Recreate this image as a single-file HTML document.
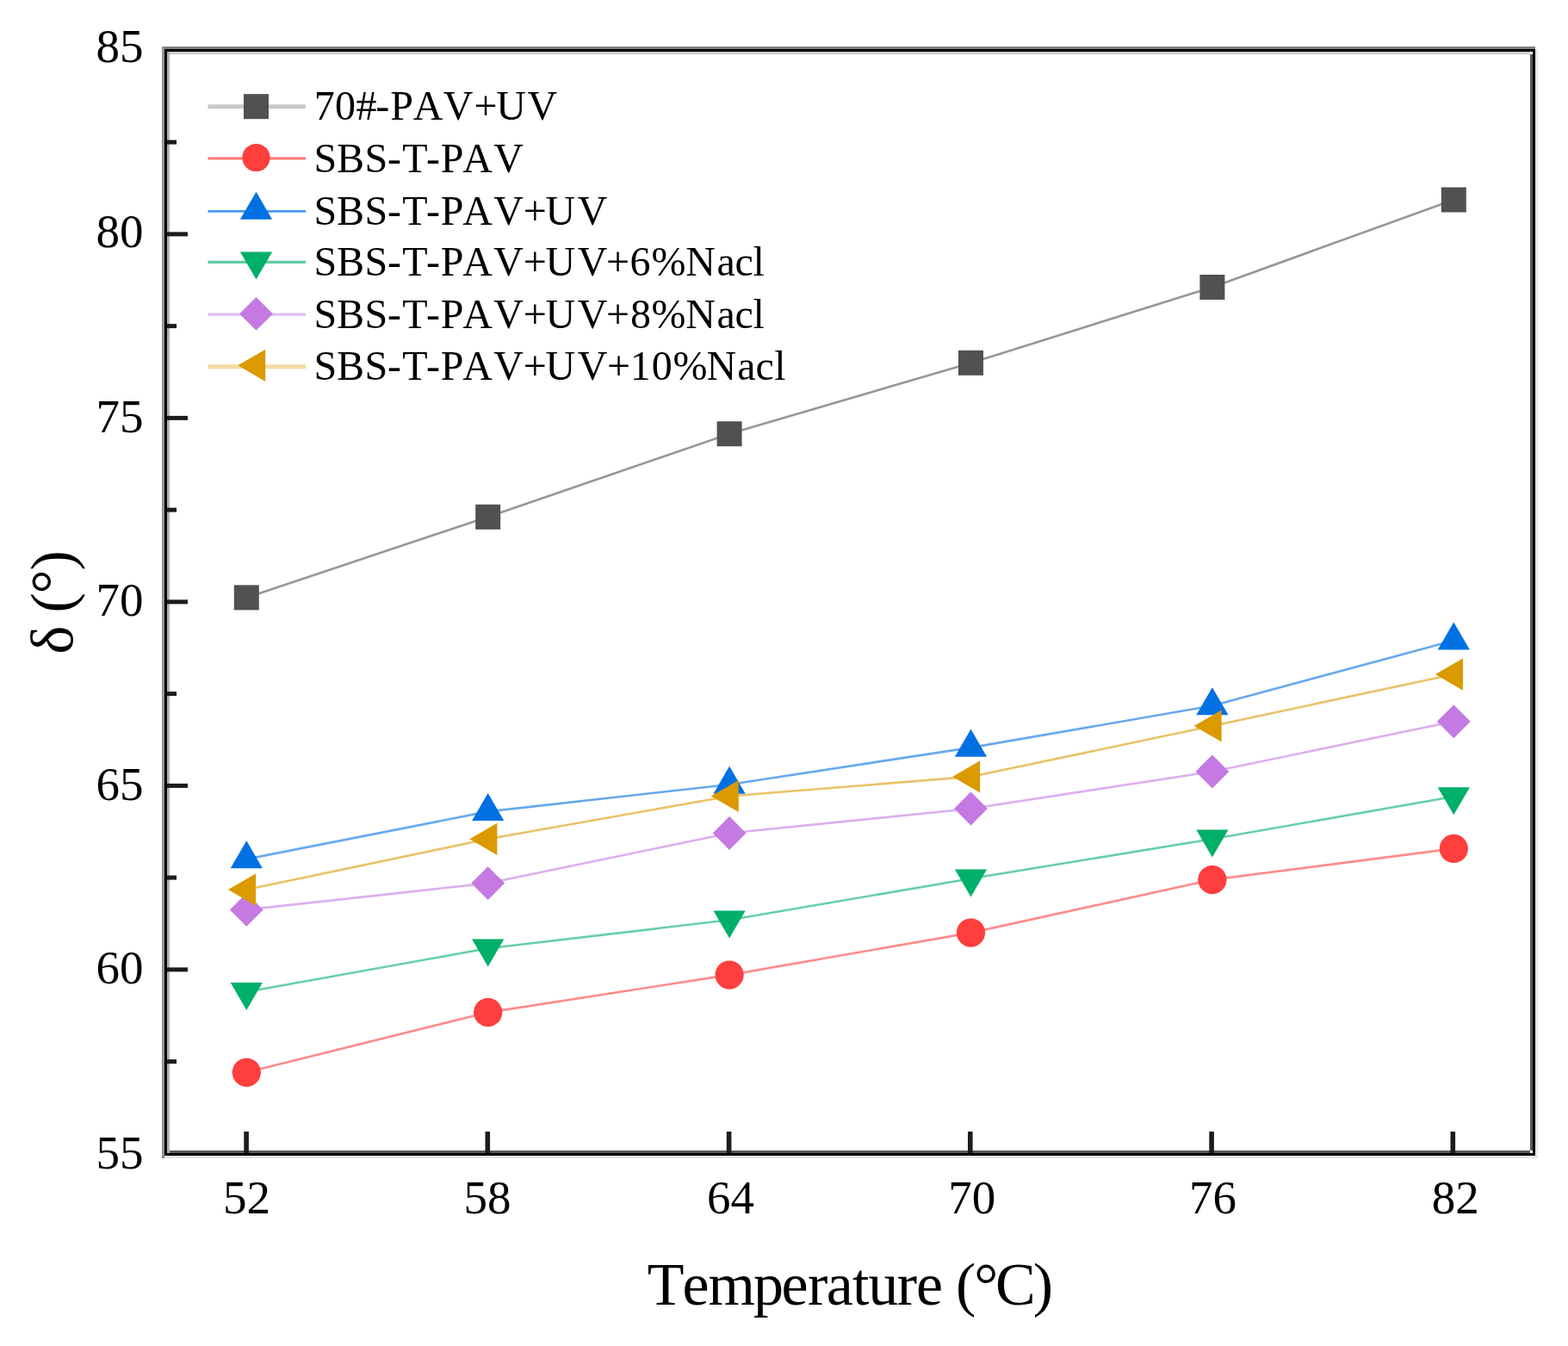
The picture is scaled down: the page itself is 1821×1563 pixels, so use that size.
<!DOCTYPE html>
<html><head><meta charset="utf-8"><title>Temperature vs phase angle</title>
<style>
html,body{margin:0;padding:0;background:#fff;}
body{width:1821px;height:1563px;overflow:hidden;}
svg{display:block;}
text{font-family:"Liberation Serif","Times New Roman",serif;fill:#000;}
</style></head><body>
<svg width="1821" height="1563" viewBox="0 0 1821 1563">
<rect width="1821" height="1563" fill="#fff"/>
<g shape-rendering="crispEdges">
<rect x="188" y="54" width="3" height="1291" fill="#000" fill-opacity="0.42"/>
<rect x="194" y="60" width="3" height="1279" fill="#000" fill-opacity="0.3"/>
<rect x="191" y="57" width="3" height="1285" fill="#000"/>
<rect x="191" y="54" width="1592" height="3" fill="#000" fill-opacity="0.5"/>
<rect x="197" y="60" width="1580" height="3" fill="#000" fill-opacity="0.2"/>
<rect x="191" y="57" width="1592" height="3" fill="#000"/>
<rect x="1777" y="63" width="3" height="1273" fill="#000" fill-opacity="0.65"/>
<rect x="1783" y="57" width="3" height="1285" fill="#000" fill-opacity="0.1"/>
<rect x="1780" y="57" width="3" height="1285" fill="#000"/>
<rect x="197" y="1336" width="1580" height="3" fill="#000" fill-opacity="0.65"/>
<rect x="188" y="1342" width="1598" height="3" fill="#000" fill-opacity="0.1"/>
<rect x="191" y="1339" width="1592" height="3" fill="#000"/>
</g>
<g fill="#1c1c1c">
<rect x="283.3" y="1314" width="5.6" height="25"/>
<rect x="563.5" y="1314" width="5.6" height="25"/>
<rect x="843.8" y="1314" width="5.6" height="25"/>
<rect x="1124.0" y="1314" width="5.6" height="25"/>
<rect x="1404.3" y="1314" width="5.6" height="25"/>
<rect x="1684.5" y="1314" width="5.6" height="25"/>
</g>
<g fill="#1c1c1c">
<rect x="194" y="162.6" width="11" height="5"/>
<rect x="194" y="269.4" width="24" height="5"/>
<rect x="194" y="376.1" width="11" height="5"/>
<rect x="194" y="482.9" width="24" height="5"/>
<rect x="194" y="589.6" width="11" height="5"/>
<rect x="194" y="696.4" width="24" height="5"/>
<rect x="194" y="803.1" width="11" height="5"/>
<rect x="194" y="909.9" width="24" height="5"/>
<rect x="194" y="1016.6" width="11" height="5"/>
<rect x="194" y="1123.4" width="24" height="5"/>
<rect x="194" y="1230.2" width="11" height="5"/>
</g>
<g font-size="55" text-anchor="end">
<text x="166.5" y="72.3">85</text>
<text x="166.5" y="287.2">80</text>
<text x="166.5" y="501.9">75</text>
<text x="166.5" y="714.5">70</text>
<text x="166.5" y="929.3">65</text>
<text x="166.5" y="1141.7">60</text>
<text x="166.5" y="1356.8">55</text>
</g>
<g font-size="55" text-anchor="middle">
<text x="286.4" y="1409.0">52</text>
<text x="566.0" y="1409.0">58</text>
<text x="848.5" y="1409.0">64</text>
<text x="1128.8" y="1409.0">70</text>
<text x="1408.5" y="1409.0">76</text>
<text x="1690.2" y="1409.0">82</text>
</g>
<text x="751.8 792.5 822.5 875.0 907.4 937.9 959.7 990.1 1008.3 1041.8 1063.9 1090.0 1110.0 1131.3 1156.0 1199.7" y="1514.5" font-size="70">Temperature (°C)</text>
<text transform="translate(83.5,760) rotate(-90)" x="0.5 30.0 48.4 70.5 97.6" y="0" font-size="70">δ (°)</text>
<polyline points="286.3,693.9 566.7,600.3 847.1,503.8 1127.5,421.4 1407.9,333.5 1688.3,232.0" fill="none" stroke="#515151" stroke-width="2.6" stroke-opacity="0.6"/>
<polyline points="286.3,1245.3 566.7,1175.6 847.1,1132.1 1127.5,1083.1 1407.9,1021.6 1688.3,985.4" fill="none" stroke="#FF3E3E" stroke-width="2.6" stroke-opacity="0.6"/>
<polyline points="286.3,997.6 566.7,942.4 847.1,911.0 1127.5,868.1 1407.9,819.6 1688.3,743.8" fill="none" stroke="#0070E3" stroke-width="2.6" stroke-opacity="0.6"/>
<polyline points="286.3,1151.7 566.7,1101.3 847.1,1068.3 1127.5,1020.2 1407.9,974.3 1688.3,925.0" fill="none" stroke="#00AF6A" stroke-width="2.6" stroke-opacity="0.6"/>
<polyline points="286.3,1056.4 566.7,1025.6 847.1,967.5 1127.5,939.0 1407.9,896.0 1688.3,837.8" fill="none" stroke="#C479E3" stroke-width="2.6" stroke-opacity="0.6"/>
<polyline points="286.3,1033.1 566.7,974.3 847.1,924.5 1127.5,901.9 1407.9,843.0 1688.3,783.1" fill="none" stroke="#DA9A00" stroke-width="2.6" stroke-opacity="0.6"/>
<g><rect x="271.8" y="679.4" width="29.0" height="29.0" fill="#515151"/><rect x="552.2" y="585.8" width="29.0" height="29.0" fill="#515151"/><rect x="832.6" y="489.3" width="29.0" height="29.0" fill="#515151"/><rect x="1113.0" y="406.9" width="29.0" height="29.0" fill="#515151"/><rect x="1393.4" y="319.0" width="29.0" height="29.0" fill="#515151"/><rect x="1673.8" y="217.5" width="29.0" height="29.0" fill="#515151"/></g>
<g><circle cx="286.3" cy="1245.3" r="16.6" fill="#FF3E3E"/><circle cx="566.7" cy="1175.6" r="16.6" fill="#FF3E3E"/><circle cx="847.1" cy="1132.1" r="16.6" fill="#FF3E3E"/><circle cx="1127.5" cy="1083.1" r="16.6" fill="#FF3E3E"/><circle cx="1407.9" cy="1021.6" r="16.6" fill="#FF3E3E"/><circle cx="1688.3" cy="985.4" r="16.6" fill="#FF3E3E"/></g>
<g><polygon points="286.3,976.3 304.9,1008.3 267.7,1008.3" fill="#0070E3"/><polygon points="566.7,921.1 585.3,953.1 548.1,953.1" fill="#0070E3"/><polygon points="847.1,889.7 865.7,921.7 828.5,921.7" fill="#0070E3"/><polygon points="1127.5,846.8 1146.1,878.8 1108.9,878.8" fill="#0070E3"/><polygon points="1407.9,798.3 1426.5,830.3 1389.3,830.3" fill="#0070E3"/><polygon points="1688.3,722.5 1706.9,754.5 1669.7,754.5" fill="#0070E3"/></g>
<g><polygon points="286.3,1173.0 304.9,1141.0 267.7,1141.0" fill="#00AF6A"/><polygon points="566.7,1122.6 585.3,1090.6 548.1,1090.6" fill="#00AF6A"/><polygon points="847.1,1089.6 865.7,1057.6 828.5,1057.6" fill="#00AF6A"/><polygon points="1127.5,1041.5 1146.1,1009.5 1108.9,1009.5" fill="#00AF6A"/><polygon points="1407.9,995.6 1426.5,963.6 1389.3,963.6" fill="#00AF6A"/><polygon points="1688.3,946.3 1706.9,914.3 1669.7,914.3" fill="#00AF6A"/></g>
<g><polygon points="286.3,1037.0 305.7,1056.4 286.3,1075.8 266.9,1056.4" fill="#C479E3"/><polygon points="566.7,1006.2 586.1,1025.6 566.7,1045.0 547.3,1025.6" fill="#C479E3"/><polygon points="847.1,948.1 866.5,967.5 847.1,986.9 827.7,967.5" fill="#C479E3"/><polygon points="1127.5,919.6 1146.9,939.0 1127.5,958.4 1108.1,939.0" fill="#C479E3"/><polygon points="1407.9,876.6 1427.3,896.0 1407.9,915.4 1388.5,896.0" fill="#C479E3"/><polygon points="1688.3,818.4 1707.7,837.8 1688.3,857.2 1668.9,837.8" fill="#C479E3"/></g>
<g><polygon points="265.0,1033.1 297.0,1014.5 297.0,1051.7" fill="#DA9A00"/><polygon points="545.4,974.3 577.4,955.7 577.4,992.9" fill="#DA9A00"/><polygon points="825.8,924.5 857.8,905.9 857.8,943.1" fill="#DA9A00"/><polygon points="1106.2,901.9 1138.2,883.3 1138.2,920.5" fill="#DA9A00"/><polygon points="1386.6,843.0 1418.6,824.4 1418.6,861.6" fill="#DA9A00"/><polygon points="1667.0,783.1 1699.0,764.5 1699.0,801.7" fill="#DA9A00"/></g>
<line x1="241.5" y1="123.8" x2="355" y2="123.8" stroke="#515151" stroke-width="5.0" stroke-opacity="0.3"/>
<rect x="283.0" y="109.2" width="29.0" height="29.0" fill="#515151"/>
<text x="364.7 388.9 413.6 436.3 453.2 479.7 514.7 550.4 576.2 612.5" y="139.3" font-size="48">70#-PAV+UV</text>
<line x1="241.5" y1="184.0" x2="355" y2="184.0" stroke="#FF3E3E" stroke-width="2.8" stroke-opacity="0.72"/>
<circle cx="297.5" cy="183.0" r="16.1" fill="#FF3E3E"/>
<text x="364.6 390.9 423.4 450.0 467.2 495.0 511.7 537.3 573.3" y="199.5" font-size="48">SBS-T-PAV</text>
<line x1="241.5" y1="245.4" x2="355" y2="245.4" stroke="#0070E3" stroke-width="2.8" stroke-opacity="0.7"/>
<polygon points="297.5,222.7 316.1,254.7 278.9,254.7" fill="#0070E3"/>
<text x="364.6 390.9 423.4 450.0 467.2 495.0 511.7 537.3 573.3 607.8 633.5 670.8" y="260.9" font-size="48">SBS-T-PAV+UV</text>
<line x1="241.5" y1="304.3" x2="355" y2="304.3" stroke="#00AF6A" stroke-width="3.2" stroke-opacity="0.62"/>
<polygon points="297.5,324.6 316.1,292.6 278.9,292.6" fill="#00AF6A"/>
<text x="364.6 390.9 423.4 450.0 467.2 495.0 511.7 537.3 573.3 607.8 633.5 670.8 704.0 731.6 756.6 796.2 832.4 853.6 874.5" y="319.8" font-size="48">SBS-T-PAV+UV+6%Nacl</text>
<line x1="241.5" y1="365.2" x2="355" y2="365.2" stroke="#C479E3" stroke-width="3.2" stroke-opacity="0.5"/>
<polygon points="297.5,345.0 316.9,364.4 297.5,383.8 278.1,364.4" fill="#C479E3"/>
<text x="364.6 390.9 423.4 450.0 467.2 495.0 511.7 537.3 573.3 607.8 633.5 670.8 704.0 732.0 756.6 796.2 832.4 853.6 874.5" y="380.7" font-size="48">SBS-T-PAV+UV+8%Nacl</text>
<line x1="241.5" y1="425.7" x2="355" y2="425.7" stroke="#DA9A00" stroke-width="5.0" stroke-opacity="0.35"/>
<polygon points="276.2,424.3 308.2,405.7 308.2,442.9" fill="#DA9A00"/>
<text x="364.6 390.9 423.4 450.0 467.2 495.0 511.7 537.3 573.3 607.8 633.5 670.8 705.1 731.7 756.8 781.5 820.6 856.2 877.6 899.3" y="441.2" font-size="48">SBS-T-PAV+UV+10%Nacl</text>
</svg></body></html>
